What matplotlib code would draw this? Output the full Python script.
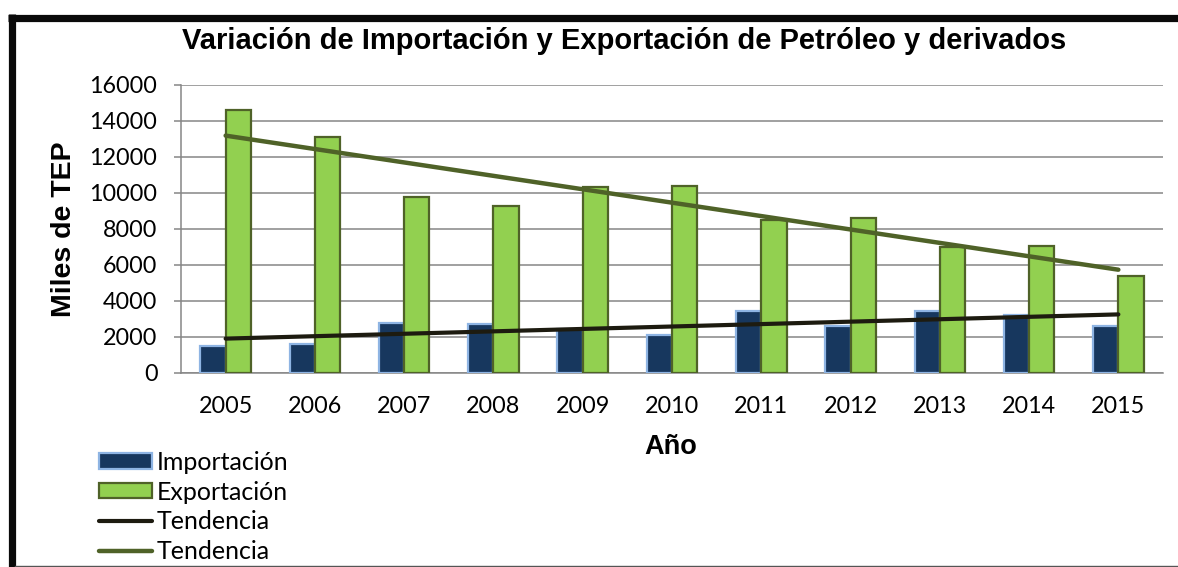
import numpy as np
import matplotlib
matplotlib.use("Agg")
import matplotlib.pyplot as plt
from matplotlib.lines import Line2D
from matplotlib.patches import Patch

years = ["2005", "2006", "2007", "2008", "2009", "2010", "2011", "2012", "2013", "2014", "2015"]
importacion = [1480, 1570, 2780, 2700, 2400, 2090, 3400, 2610, 3400, 3200, 2600]
exportacion = [14600, 13100, 9780, 9280, 10310, 10370, 8480, 8570, 7000, 7050, 5370]
yticks = [0, 2000, 4000, 6000, 8000, 10000, 12000, 14000, 16000]

W, H = 1178, 567
fig = plt.figure(figsize=(W / 100, H / 100), dpi=100)
fig.patch.set_facecolor("white")

ax = fig.add_axes([181 / W, 1 - 372.7 / H, (1163 - 181) / W, (372.7 - 84.7) / H])

x = np.arange(len(years))
bw = 0.283
GRID = "#868686"

ax.bar(x - bw / 2, importacion, width=bw, color="#17375E", edgecolor="#8EB4E3",
       linewidth=1.6, zorder=3, label="Importación")
ax.bar(x + bw / 2, exportacion, width=bw, color="#92D050", edgecolor="#4F6228",
       linewidth=1.6, zorder=3, label="Exportación")

pi = np.polyfit(x, importacion, 1)
pe = np.polyfit(x, exportacion, 1)
ax.plot(x, np.polyval(pi, x), color="#1D1B10", lw=3.0, solid_capstyle="round", zorder=4)
ax.plot(x, np.polyval(pe, x), color="#4F6228", lw=3.2, solid_capstyle="round", zorder=4)

ax.set_xlim(-0.5, len(years) - 0.5)
ax.set_ylim(0, 16000)
ax.set_yticks(yticks)
ax.set_yticklabels([str(v) for v in yticks])
ax.set_xticks(x)
ax.set_xticklabels(years)

ax.yaxis.grid(True, color=GRID, lw=1.1, zorder=0)
ax.set_axisbelow(True)
for s in ["top", "right"]:
    ax.spines[s].set_visible(False)
ax.spines["left"].set_color(GRID)
ax.spines["left"].set_linewidth(1.1)
ax.spines["bottom"].set_color(GRID)
ax.spines["bottom"].set_linewidth(1.1)

ax.tick_params(axis="y", direction="out", length=5, width=1.1, color=GRID, pad=12)
ax.tick_params(axis="x", length=0, pad=17)
for lab in ax.get_yticklabels() + ax.get_xticklabels():
    lab.set_fontfamily("Lato")
    lab.set_fontsize(16.8)
    lab.set_color("black")

fig.text(624 / W, 1 - 41 / H, "Variación de Importación y Exportación de Petróleo y derivados",
         ha="center", va="center", family="Liberation Sans", weight="bold", size=21)
fig.text(64 / W, 1 - 229 / H, "Miles de TEP", rotation=90, ha="center", va="center",
         family="Liberation Sans", weight="bold", size=20.5)
fig.text(671 / W, 1 - 447 / H, "Año", ha="center", va="center",
         family="Liberation Sans", weight="bold", size=19.5)

handles = [
    Patch(facecolor="#17375E", edgecolor="#8EB4E3", linewidth=1.6),
    Patch(facecolor="#92D050", edgecolor="#4F6228", linewidth=1.6),
    Line2D([], [], color="#1D1B10", lw=3.0, solid_capstyle="round"),
    Line2D([], [], color="#4F6228", lw=3.2, solid_capstyle="round"),
]
labels = ["Importación", "Exportación", "Tendencia", "Tendencia"]
fig.legend(handles, labels, loc="center left", bbox_to_anchor=(99 / W, 1 - 507 / H),
           frameon=False, prop=dict(family="Lato", size=18), handlelength=2.12,
           handleheight=0.56, handletextpad=0.2, labelspacing=0.27, borderpad=0,
           borderaxespad=0)

# outer frame
fig.add_artist(Line2D([8 / W, 1], [1 - 17.5 / H, 1 - 17.5 / H], color="#0a0a0a", lw=5.2,
                      transform=fig.transFigure, solid_capstyle="butt"))
fig.add_artist(Line2D([11.5 / W, 11.5 / W], [1 - 14 / H, 0], color="#0a0a0a", lw=5.2,
                      transform=fig.transFigure, solid_capstyle="butt"))
fig.add_artist(Line2D([15 / W, 1], [1 - 566 / H, 1 - 566 / H], color="#555555", lw=1.0,
                      transform=fig.transFigure))

fig.savefig("out.png", dpi=100, facecolor="white")
